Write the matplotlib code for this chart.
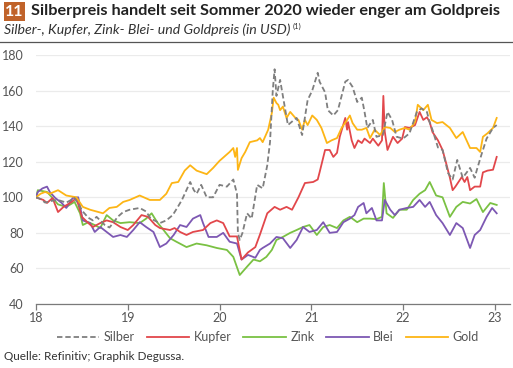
import matplotlib
matplotlib.use("Agg")
import matplotlib.pyplot as plt
from matplotlib.patches import Rectangle

plt.rcParams['font.family'] = ['Lato', 'DejaVu Sans']

# ---------------- data (decimal year, index 2018 = 100) ----------------
silber_t = [2018.00, 2018.05, 2018.10, 2018.17, 2018.24, 2018.33, 2018.42, 2018.48, 2018.51, 2018.57,
            2018.62, 2018.66, 2018.75, 2018.80, 2018.84, 2018.89, 2018.95, 2019.02, 2019.13, 2019.20,
            2019.25, 2019.35, 2019.42, 2019.49, 2019.55, 2019.59, 2019.68, 2019.72, 2019.75, 2019.80,
            2019.86, 2019.93, 2020.00, 2020.08, 2020.15, 2020.19, 2020.20, 2020.22, 2020.25, 2020.30,
            2020.35, 2020.41, 2020.47, 2020.52, 2020.55, 2020.58, 2020.60, 2020.62, 2020.66, 2020.68,
            2020.745, 2020.80, 2020.84, 2020.90, 2020.96, 2021.01, 2021.07, 2021.09, 2021.15, 2021.18,
            2021.24, 2021.29, 2021.37, 2021.40, 2021.45, 2021.50, 2021.55, 2021.58, 2021.61, 2021.67,
            2021.71, 2021.78, 2021.83, 2021.88, 2021.93, 2022.00, 2022.07, 2022.15, 2022.20, 2022.26,
            2022.29, 2022.32, 2022.38, 2022.43, 2022.49, 2022.54, 2022.59, 2022.65, 2022.73, 2022.78,
            2022.81, 2022.86, 2022.91, 2022.98, 2023.02]
silber_v = [100, 99, 97, 98, 98.5, 97, 99.6, 94.6, 92, 88.5,
            87, 89, 84.4, 83, 85.5, 89, 91.7, 93, 94, 92,
            88, 85.5, 87, 90, 95, 98.5, 108.6, 104, 102, 107,
            100, 100, 107, 106, 110, 102, 80, 76, 80, 91,
            88, 107, 105, 118, 131, 160, 172, 157, 166, 160,
            140.6, 143, 144.6, 135, 154.7, 160, 170, 165, 159, 149,
            146, 149, 165, 166, 162, 153.6, 156, 148, 139, 143.5,
            134, 135, 148, 143.5, 134, 133, 136, 148, 150, 148,
            142, 138, 128, 126.6, 113.6, 110, 121, 111, 116.5, 111,
            116.5, 125, 133, 139, 140.6]

kupfer_t = [2018.00, 2018.02, 2018.08, 2018.12, 2018.18, 2018.24, 2018.30, 2018.39, 2018.44, 2018.50,
            2018.57, 2018.62, 2018.70, 2018.77, 2018.84, 2018.92, 2019.00, 2019.06, 2019.15, 2019.22,
            2019.30, 2019.35, 2019.46, 2019.51, 2019.57, 2019.64, 2019.71, 2019.82, 2019.90, 2019.97,
            2020.04, 2020.11, 2020.19, 2020.24, 2020.31, 2020.39, 2020.44, 2020.52, 2020.60, 2020.66,
            2020.73, 2020.79, 2020.86, 2020.93, 2021.02, 2021.07, 2021.09, 2021.15, 2021.20, 2021.24,
            2021.28, 2021.31, 2021.37, 2021.39, 2021.40, 2021.44, 2021.47, 2021.51, 2021.55, 2021.58,
            2021.64, 2021.67, 2021.73, 2021.77, 2021.785, 2021.80, 2021.83, 2021.89, 2021.94, 2021.99,
            2022.02, 2022.07, 2022.13, 2022.18, 2022.22, 2022.26, 2022.29, 2022.32, 2022.38, 2022.43,
            2022.47, 2022.51, 2022.54, 2022.57, 2022.64, 2022.67, 2022.70, 2022.73, 2022.78, 2022.84,
            2022.87, 2022.92, 2022.98, 2023.02]
kupfer_v = [100, 99.6, 98.5, 96.8, 99.6, 91.7, 94.6, 97.4, 99.6, 89,
            85.5, 83.3, 85.5, 87, 86, 83.3, 81.6, 84.4, 90, 89,
            84.4, 82.7, 81.6, 82.7, 80.5, 78.8, 80.5, 81.6, 85.5, 87,
            85.5, 78, 78, 65, 69, 72, 79, 91, 94.6, 93,
            94.6, 93, 100, 108, 108.6, 110, 114, 126.6, 126.6, 122.7,
            125, 134, 144.6, 138, 142.3, 132, 127.7, 132, 130.5, 133,
            130.5, 133, 129, 132, 157, 137, 126.6, 134, 130.5, 133,
            139.5, 139, 140.6, 148, 143.5, 145, 142.3, 136.7, 132, 126.6,
            119, 111, 104, 106, 111.4, 108.6, 111.4, 104, 106, 106,
            114, 115, 115.5, 122.7]

zink_t = [2018.00, 2018.02, 2018.12, 2018.18, 2018.24, 2018.33, 2018.42, 2018.48, 2018.51, 2018.57,
          2018.64, 2018.70, 2018.77, 2018.84, 2018.92, 2019.02, 2019.13, 2019.20, 2019.26, 2019.32,
          2019.39, 2019.46, 2019.53, 2019.64, 2019.75, 2019.86, 2019.97, 2020.08, 2020.15, 2020.22,
          2020.30, 2020.37, 2020.44, 2020.51, 2020.57, 2020.62, 2020.69, 2020.77, 2020.84, 2020.91,
          2020.98, 2021.06, 2021.13, 2021.20, 2021.28, 2021.35, 2021.42, 2021.50, 2021.57, 2021.64,
          2021.71, 2021.77, 2021.79, 2021.82, 2021.89, 2021.96, 2022.04, 2022.11, 2022.18, 2022.24,
          2022.29, 2022.36, 2022.43, 2022.51, 2022.58, 2022.65, 2022.73, 2022.80, 2022.87, 2022.95,
          2023.02]
zink_v = [100, 104, 103, 99.6, 96, 94.6, 97.4, 91, 84.4, 86,
          84.4, 82.7, 90, 87, 85.5, 86, 85.5, 88, 91, 86,
          81.6, 77, 75, 72, 74, 73, 71.5, 70.4, 66.5, 56.3,
          61, 65, 64, 66.5, 70.4, 76, 77.7, 80, 81.6, 83.3,
          84.4, 78.8, 83.3, 84.4, 82.7, 87, 89, 86, 88, 88,
          87.7, 89, 108, 91, 88.4, 93, 93, 98.5, 102, 104,
          108.6, 101, 100, 89, 94.6, 97.4, 96.5, 99, 91.7, 96.8,
          95.7]

blei_t = [2018.00, 2018.02, 2018.07, 2018.12, 2018.15, 2018.21, 2018.28, 2018.33, 2018.40, 2018.46,
          2018.51, 2018.59, 2018.64, 2018.70, 2018.77, 2018.84, 2018.92, 2018.99, 2019.06, 2019.13,
          2019.20, 2019.28, 2019.35, 2019.42, 2019.50, 2019.57, 2019.64, 2019.71, 2019.79, 2019.82,
          2019.88, 2019.97, 2020.04, 2020.11, 2020.19, 2020.24, 2020.31, 2020.39, 2020.44, 2020.47,
          2020.55, 2020.62, 2020.69, 2020.77, 2020.84, 2020.91, 2020.98, 2021.06, 2021.13, 2021.20,
          2021.28, 2021.35, 2021.42, 2021.47, 2021.51, 2021.57, 2021.60, 2021.66, 2021.71, 2021.77,
          2021.80, 2021.86, 2021.91, 2021.96, 2022.04, 2022.11, 2022.18, 2022.24, 2022.29, 2022.36,
          2022.43, 2022.51, 2022.58, 2022.65, 2022.73, 2022.78, 2022.84, 2022.91, 2022.97, 2023.02]
blei_v = [100, 103, 105, 106, 103, 99.6, 96.8, 94, 99.6, 100,
          87, 85.5, 80.5, 83.3, 80.5, 77.7, 78.8, 77.7, 81.6, 86,
          83.3, 80.5, 72, 74, 78.8, 84.4, 83.3, 88, 90, 85.5,
          77.7, 77.7, 80, 75, 74, 65, 67.6, 66, 70.4, 71.5,
          74, 77.7, 77, 71.5, 76, 83.3, 80.5, 81.6, 86, 80,
          80.5, 86, 88, 90, 94.6, 96.8, 91, 94, 87, 87,
          98.5, 93, 90, 93, 94, 94.6, 98.5, 94.6, 97.4, 90,
          85.5, 78.8, 85.5, 82.7, 71.5, 78.8, 81.6, 89, 94, 91]

gold_t = [2018.00, 2018.05, 2018.10, 2018.15, 2018.24, 2018.33, 2018.44, 2018.51, 2018.59, 2018.66,
          2018.73, 2018.80, 2018.88, 2018.95, 2019.02, 2019.13, 2019.24, 2019.35, 2019.42, 2019.48,
          2019.55, 2019.62, 2019.68, 2019.75, 2019.86, 2019.93, 2020.00, 2020.11, 2020.15, 2020.17,
          2020.19, 2020.20, 2020.24, 2020.28, 2020.33, 2020.41, 2020.44, 2020.47, 2020.53, 2020.57,
          2020.59, 2020.62, 2020.64, 2020.66, 2020.69, 2020.73, 2020.77, 2020.82, 2020.86, 2020.90,
          2020.93, 2020.96, 2021.01, 2021.06, 2021.11, 2021.17, 2021.22, 2021.28, 2021.33, 2021.39,
          2021.42, 2021.45, 2021.50, 2021.55, 2021.60, 2021.64, 2021.69, 2021.75, 2021.80, 2021.86,
          2021.91, 2021.96, 2022.02, 2022.07, 2022.13, 2022.16, 2022.22, 2022.27, 2022.31, 2022.37,
          2022.43, 2022.51, 2022.58, 2022.65, 2022.73, 2022.80, 2022.84, 2022.87, 2022.92, 2022.98,
          2023.02]
gold_v = [100, 102, 103, 102, 104, 101, 100, 94.6, 93, 92,
          91, 94, 94.6, 97.4, 98.5, 101, 98.5, 98.5, 102, 108,
          108.6, 115, 118, 115, 113, 116.5, 120.5, 125.5, 127.7, 122.7,
          127.7, 115.4, 122, 125.5, 131, 132, 133.3, 131, 138, 147.4,
          156, 153, 152, 149, 151, 144.6, 148, 145, 143.5, 138,
          143.5, 140.6, 146, 143.5, 139, 130.5, 132, 133.3, 139, 143.5,
          146, 141.7, 138, 138, 139, 133.3, 138, 135, 139.5, 139,
          136.7, 138, 139, 138, 142.3, 152, 149, 152, 143.5, 141.7,
          142.3, 139, 133.3, 136.7, 127.7, 127.7, 125.5, 134, 136, 139,
          144.6]

series_names = ['Silber', 'Kupfer', 'Zink', 'Blei', 'Gold']
year_ticks = [2018, 2019, 2020, 2021, 2022, 2023]
year_labels = ['18', '19', '20', '21', '22', '23']
y_ticks = [40, 60, 80, 100, 120, 140, 160, 180]

title = 'Silberpreis handelt seit Sommer 2020 wieder enger am Goldpreis'
subtitle = 'Silber-, Kupfer, Zink- Blei- und Goldpreis (in USD)'
source = 'Quelle: Refinitiv; Graphik Degussa.'

# ---------------- figure ----------------
W, H = 513, 368
fig = plt.figure(figsize=(W / 100, H / 100), dpi=100)
fig.patch.set_facecolor('white')

ax = fig.add_axes([36 / W, 1 - 304 / H, (510 - 36) / W, (304 - 55) / H])

c_silber = '#7f7f7f'
c_kupfer = '#e2474b'
c_zink = '#7ac143'
c_blei = '#7d58b3'
c_gold = '#fdb515'
lw = 1.3

ax.plot(silber_t, silber_v, color=c_silber, lw=lw, ls=(0, (3, 1.6)), label=series_names[0], zorder=4)
ax.plot(kupfer_t, kupfer_v, color=c_kupfer, lw=lw, label=series_names[1], zorder=3)
ax.plot(zink_t, zink_v, color=c_zink, lw=lw, label=series_names[2], zorder=2)
ax.plot(blei_t, blei_v, color=c_blei, lw=lw, label=series_names[3], zorder=2.5)
ax.plot(gold_t, gold_v, color=c_gold, lw=lw, label=series_names[4], zorder=3.5)

ax.set_xlim(2018, 2023.165)
ax.set_ylim(40, 180)
ax.set_yticks(y_ticks)
ax.set_xticks(year_ticks)
ax.set_xticklabels(year_labels)
for s in ['top', 'right', 'left']:
    ax.spines[s].set_visible(False)
ax.spines['bottom'].set_color('#7a7a7a')
ax.spines['bottom'].set_linewidth(0.9)
ax.grid(axis='y', color='#ebebeb', lw=0.9, zorder=0)
ax.set_axisbelow(True)
ax.tick_params(axis='y', length=0, pad=9, labelsize=9, labelcolor='#555555')
ax.tick_params(axis='x', length=4, width=0.9, color='#7a7a7a', pad=2, labelsize=9,
               labelcolor='#555555')

leg = ax.legend(loc='upper center', bbox_to_anchor=(0.489, -0.088), ncol=5, frameon=False,
                fontsize=9, handlelength=3.4, handletextpad=0.35, columnspacing=0.95,
                borderaxespad=0)
for t in leg.get_texts():
    t.set_color('#555555')

# title block
fig.patches.append(Rectangle((4 / W, 1 - 21 / H), 21 / W, 19 / H, transform=fig.transFigure,
                             facecolor='#c0632a', edgecolor='none'))
fig.text(14.5 / W, 1 - 11.5 / H, '11', color='white', fontsize=11.5, fontweight='bold',
         ha='center', va='center')
fig.text(31 / W, 1 - 11.5 / H, title, color='#222222', fontsize=11.7, fontweight='bold',
         ha='left', va='center')
fig.text(4 / W, 1 - 30 / H, subtitle, color='#333333', fontsize=10.2, style='italic',
         ha='left', va='center')
fig.text(293 / W, 1 - 26 / H, '(1)', color='#333333', fontsize=5.5, ha='left', va='center')
fig.add_artist(plt.Line2D([0, 1], [1 - 41.5 / H, 1 - 41.5 / H], transform=fig.transFigure,
                          color='#555555', lw=0.9))

fig.text(4 / W, 1 - 357 / H, source, color='#333333', fontsize=8.5, ha='left', va='center')

fig.savefig('out.png', dpi=100, facecolor='white')
